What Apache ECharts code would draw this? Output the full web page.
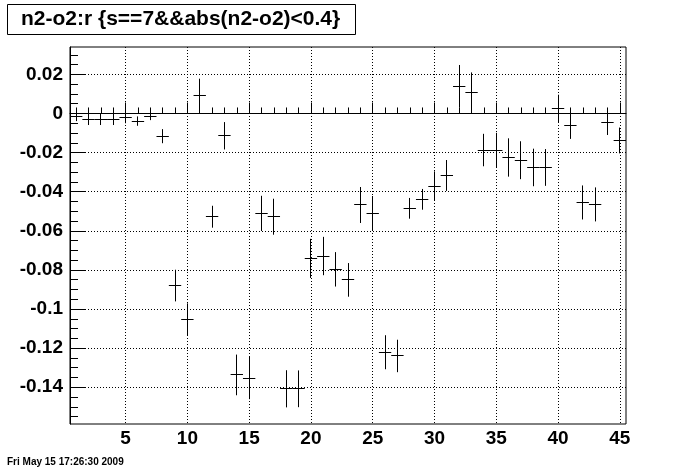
<!DOCTYPE html>
<html>
<head>
<meta charset="utf-8">
<script src="https://cdn.jsdelivr.net/npm/echarts@6/dist/echarts.min.js"></script>
<style>
html,body{margin:0;padding:0;background:#fff;}
#c{width:696px;height:472px;}
</style>
</head>
<body>
<div id="c"></div>
<script>
// ---- data ----
const binX = [1,2,3,4,5,6,7,8,9,10,11,12,13,14,15,16,17,18,19,20,21,22,23,24,25,26,27,28,29,30,31,32,33,34,35,36,37,38,39,40,41,42,43,44,45];
const meanY = [-0.0017,-0.0029,-0.0029,-0.0029,-0.0020,-0.0039,-0.0014,-0.0116,-0.0880,-0.1052,
               0.0093,-0.0528,-0.0114,-0.1337,-0.1353,-0.0511,-0.0528,-0.1408,-0.1408,-0.0741,
               -0.0729,-0.0797,-0.0851,-0.0468,-0.0511,-0.1221,-0.1240,-0.0485,-0.0439,-0.0371,
               -0.0317,0.0139,0.0107,-0.0187,-0.0187,-0.0225,-0.0239,-0.0276,-0.0276,0.0026,
               -0.0061,-0.0455,-0.0465,-0.0044,-0.0138];
const errY = [0.0022,0.0030,0.0030,0.0030,0.0030,0.0024,0.0020,0.0036,0.0081,0.0081,
              0.0085,0.0056,0.0070,0.0104,0.0108,0.0090,0.0092,0.0095,0.0094,0.0100,
              0.0098,0.0088,0.0086,0.0092,0.0089,0.0087,0.0083,0.0053,0.0053,0.0075,
              0.0079,0.0109,0.0103,0.0083,0.0088,0.0098,0.0097,0.0096,0.0094,0.0070,
              0.0069,0.0087,0.0087,0.0066,0.0066];
const xTickLabels = [5,10,15,20,25,30,35,40,45];
const yTickLabels = [-0.14,-0.12,-0.1,-0.08,-0.06,-0.04,-0.02,0,0.02];
const titleText = 'n2-o2:r {s==7&&abs(n2-o2)<0.4}';
const dateText = 'Fri May 15 17:26:30 2009';

// minor tick positions
const xMinor = [];
for (let i = 1; i <= 45; i++) xMinor.push(i);
const yMinor = [];
for (let k = -31; k <= 6; k++) yMinor.push(+(k * 0.005).toFixed(3));

const seriesData = binX.map((x, i) => [x, meanY[i], errY[i]]);

const FONT = '"Liberation Sans", Arial, Helvetica, sans-serif';
const chart = echarts.init(document.getElementById('c'), null, {renderer: 'canvas'});

function px(v){ return Math.round(v - 0.5) + 0.5; }

chart.setOption({
  animation: false,
  backgroundColor: '#fff',
  title: {
    text: titleText,
    left: 7, top: 4,
    borderColor: '#000', borderWidth: 1,
    padding: [5, 16, 5, 14],
    textStyle: {fontFamily: FONT, fontWeight: 'bold', fontSize: 21, color: '#000'}
  },
  graphic: [{
    type: 'text', left: 7, top: 457,
    style: {text: dateText, font: 'bold 10px ' + FONT, fill: '#000'}
  }],
  grid: {left: 70, right: 70, top: 47, bottom: 48, show: true, borderColor: '#000', borderWidth: 1, backgroundColor: 'transparent'},
  xAxis: [{
    type: 'value', min: 0.5, max: 45.5, position: 'bottom',
    axisLine: {show: true, lineStyle: {color: '#000', width: 1}},
    axisTick: {show: true, inside: true, length: 11, customValues: xTickLabels, lineStyle: {color: '#000'}},
    axisLabel: {show: true, customValues: xTickLabels, margin: 5, fontFamily: FONT, fontWeight: 'bold', fontSize: 19, color: '#000'},
    splitLine: {show: true, lineStyle: {color: '#000', type: [1, 2], width: 1}}
  }, {
    type: 'value', min: 0.5, max: 45.5, position: 'bottom', offset: 0,
    axisLine: {show: false},
    axisTick: {show: true, inside: true, length: 6, customValues: xMinor, lineStyle: {color: '#000'}},
    axisLabel: {show: false},
    splitLine: {show: false}
  }],
  yAxis: [{
    type: 'value', min: -0.1588, max: 0.034, position: 'left',
    axisLine: {show: true, lineStyle: {color: '#000', width: 1}},
    axisTick: {show: true, inside: true, length: 15, customValues: yTickLabels, lineStyle: {color: '#000'}},
    axisLabel: {show: true, customValues: yTickLabels, margin: 7, fontFamily: FONT, fontWeight: 'bold', fontSize: 19, color: '#000',
      formatter: v => String(+v.toFixed(3))},
    splitLine: {show: true, lineStyle: {color: '#000', type: [1, 2], width: 1}}
  }, {
    type: 'value', min: -0.1588, max: 0.034, position: 'left', offset: 0,
    axisLine: {show: false},
    axisTick: {show: true, inside: true, length: 8, customValues: yMinor, lineStyle: {color: '#000'}},
    axisLabel: {show: false},
    splitLine: {show: false}
  }],
  series: [{
    type: 'custom',
    xAxisIndex: 0, yAxisIndex: 0,
    clip: true,
    data: seriesData,
    encode: {x: 0, y: 1},
    renderItem: function (params, api) {
      const x = api.value(0), y = api.value(1), e = api.value(2);
      const c = api.coord([x, y]);
      const t = api.coord([x, y + e]);
      const b = api.coord([x, y - e]);
      const l = api.coord([x - 0.5, y]);
      const r = api.coord([x + 0.5, y]);
      return {
        type: 'group',
        children: [
          {type: 'line', shape: {x1: px(c[0]), y1: t[1], x2: px(c[0]), y2: b[1]}, style: {stroke: '#000', lineWidth: 1}},
          {type: 'line', shape: {x1: l[0], y1: px(c[1]), x2: r[0], y2: px(c[1])}, style: {stroke: '#000', lineWidth: 1}}
        ]
      };
    }
  }]
});
</script>
</body>
</html>
